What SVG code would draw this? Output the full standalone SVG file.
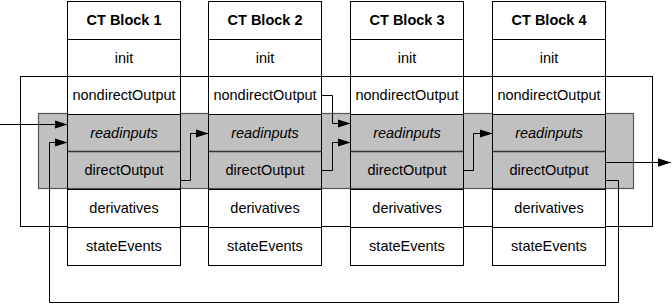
<svg xmlns="http://www.w3.org/2000/svg" width="672" height="304" viewBox="0 0 672 304">
<style>
  .cell { fill: #ffffff; stroke: #000; stroke-width: 1; }
  .open { fill: none; stroke: #000; stroke-width: 1; }
  .sep { stroke: #333; stroke-width: 1.6; }
  text { font-family: "Liberation Sans", Arial, sans-serif; font-size: 14.5px; text-anchor: middle; fill: #000; }
  .hdr { font-weight: bold; }
  .it { font-style: italic; }
  .conn { fill: none; stroke: #000; stroke-width: 1; }
</style>
<defs>
  <marker id="arr" markerUnits="userSpaceOnUse" markerWidth="14" markerHeight="10" refX="13" refY="5" orient="auto">
    <path d="M0,0.8 L13,5 L0,9.2 Z" fill="#000"/>
  </marker>
  <g id="blk">
    <rect class="cell" x="0" y="0" width="113" height="38"/>
    <rect class="cell" x="0" y="38" width="113" height="37"/>
    <rect class="cell" x="0" y="75" width="113" height="38"/>
    <rect class="open" x="0" y="113" width="113" height="75"/>
    <line class="sep" x1="0" y1="150" x2="113" y2="150"/>
    <rect class="cell" x="0" y="188" width="113" height="38"/>
    <rect class="cell" x="0" y="226" width="113" height="38"/>
  </g>
</defs>
<rect width="672" height="304" fill="#ffffff"/>
<g id="outer-loop">
  <rect x="20.5" y="76.5" width="632" height="150" fill="#ffffff" stroke="#000" stroke-width="1"/>
</g>
<g id="direct-band">
  <rect x="38.5" y="113.5" width="595" height="75" fill="#c0c0c0" stroke="#555" stroke-width="1.2"/>
</g>
<g id="block1">
  <use href="#blk" x="67.5" y="1.5"/>
  <text class="hdr" x="124" y="25">CT Block 1</text>
  <text x="124" y="63">init</text>
  <text x="124" y="100">nondirectOutput</text>
  <text class="it" x="124" y="138">readinputs</text>
  <text x="124" y="175">directOutput</text>
  <text x="124" y="213">derivatives</text>
  <text x="124" y="251">stateEvents</text>
</g>
<g id="block2">
  <use href="#blk" x="208.5" y="1.5"/>
  <text class="hdr" x="265" y="25">CT Block 2</text>
  <text x="265" y="63">init</text>
  <text x="265" y="100">nondirectOutput</text>
  <text class="it" x="265" y="138">readinputs</text>
  <text x="265" y="175">directOutput</text>
  <text x="265" y="213">derivatives</text>
  <text x="265" y="251">stateEvents</text>
</g>
<g id="block3">
  <use href="#blk" x="350.5" y="1.5"/>
  <text class="hdr" x="407" y="25">CT Block 3</text>
  <text x="407" y="63">init</text>
  <text x="407" y="100">nondirectOutput</text>
  <text class="it" x="407" y="138">readinputs</text>
  <text x="407" y="175">directOutput</text>
  <text x="407" y="213">derivatives</text>
  <text x="407" y="251">stateEvents</text>
</g>
<g id="block4">
  <use href="#blk" x="492.5" y="1.5"/>
  <text class="hdr" x="549" y="25">CT Block 4</text>
  <text x="549" y="63">init</text>
  <text x="549" y="100">nondirectOutput</text>
  <text class="it" x="549" y="138">readinputs</text>
  <text x="549" y="175">directOutput</text>
  <text x="549" y="213">derivatives</text>
  <text x="549" y="251">stateEvents</text>
</g>
<g id="connectors">
  <path class="conn" d="M0,124.5 H67.5" marker-end="url(#arr)"/>
  <path class="conn" d="M605.5,180.5 H618.5 V302.5 H49.5 V142.5 H67.5" marker-end="url(#arr)"/>
  <path class="conn" d="M605.5,162.5 H671" marker-end="url(#arr)"/>
  <path class="conn" d="M180.5,180.5 H190.5 V133.5 H208.5" marker-end="url(#arr)"/>
  <path class="conn" d="M321.5,95.5 H332.5 V123.5 H350.5" marker-end="url(#arr)"/>
  <path class="conn" d="M321.5,170.5 H332.5 V142.5 H350.5" marker-end="url(#arr)"/>
  <path class="conn" d="M463.5,170.5 H473.5 V133.5 H492.5" marker-end="url(#arr)"/>
</g>
</svg>
